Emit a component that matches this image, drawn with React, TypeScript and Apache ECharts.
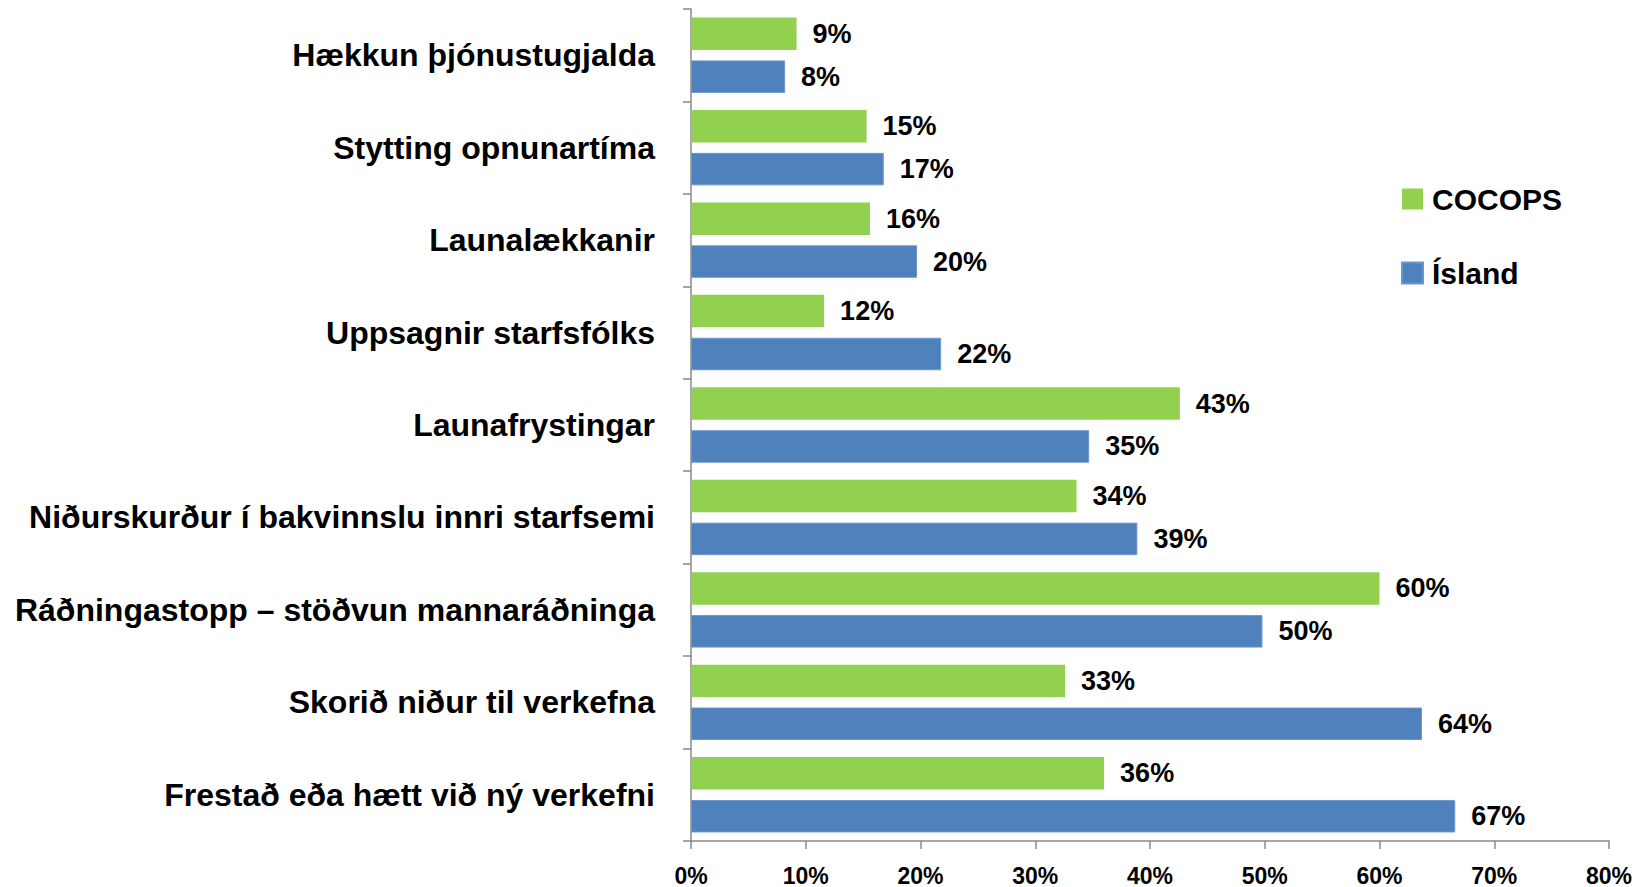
import React, { useEffect, useRef } from "react";
import * as echarts from "echarts";

const categories = [
  "Hækkun þjónustugjalda",
  "Stytting opnunartíma",
  "Launalækkanir",
  "Uppsagnir starfsfólks",
  "Launafrystingar",
  "Niðurskurður í bakvinnslu innri starfsemi",
  "Ráðningastopp – stöðvun mannaráðninga",
  "Skorið niður til verkefna",
  "Frestað eða hætt við ný verkefni",
];
const cocops = [9.2, 15.3, 15.6, 11.6, 42.6, 33.6, 60.0, 32.6, 36.0];
const island = [8.2, 16.8, 19.7, 21.8, 34.7, 38.9, 49.8, 63.7, 66.6];
const xTicks = { min: 0, max: 80, interval: 10 };

const FONT = "'Liberation Sans', Arial, sans-serif";

export default function App() {
  const ref = useRef<HTMLDivElement>(null);
  useEffect(() => {
    if (!ref.current) return;
    const chart = echarts.init(ref.current, undefined, { renderer: "svg" });
    const labelStyle = {
      show: true,
      position: "right" as const,
      distance: 16,
      color: "#000",
      fontFamily: FONT,
      fontWeight: "bold" as const,
      fontSize: 27,
      formatter: (p: any) => Math.round(p.value) + "%",
    };
    chart.setOption({
      animation: false,
      backgroundColor: "#fff",
      grid: { left: 691, right: 35, top: 9, bottom: 45 },
      legend: {
        orient: "vertical",
        left: 1401,
        top: 184,
        padding: 0,
        icon: "rect",
        itemWidth: 21,
        itemHeight: 21,
        itemGap: 44,
        data: ["COCOPS", "Ísland"],
        textStyle: {
          color: "#000",
          fontFamily: FONT,
          fontWeight: "bold",
          fontSize: 30,
          padding: [0, 0, 0, 4],
        },
      },
      xAxis: {
        type: "value",
        min: xTicks.min,
        max: xTicks.max,
        interval: xTicks.interval,
        axisLine: { show: true, lineStyle: { color: "#898989", width: 1.5 } },
        axisTick: { show: true, length: 8, lineStyle: { color: "#898989", width: 1.5 } },
        splitLine: { show: false },
        axisLabel: {
          formatter: "{value}%",
          color: "#000",
          fontFamily: FONT,
          fontWeight: "bold",
          fontSize: 23,
          margin: 23,
        },
      },
      yAxis: {
        type: "category",
        inverse: true,
        data: categories,
        axisLine: { show: true, lineStyle: { color: "#898989", width: 1.5 } },
        axisTick: { show: true, length: 8, lineStyle: { color: "#898989", width: 1.5 } },
        axisLabel: {
          color: "#000",
          fontFamily: FONT,
          fontWeight: "bold",
          fontSize: 32,
          margin: 36,
        },
      },
      series: [
        {
          name: "COCOPS",
          type: "bar",
          data: cocops,
          barWidth: 32.5,
          barGap: "32%",
          itemStyle: { color: "#92D050" },
          label: labelStyle,
        },
        {
          name: "Ísland",
          type: "bar",
          data: island,
          barWidth: 32.5,
          barGap: "32%",
          itemStyle: { color: "#4F81BD", borderColor: "#6a97cc", borderWidth: 1 },
          label: labelStyle,
        },
      ],
    });
    return () => chart.dispose();
  }, []);
  return (
    <div
      ref={ref}
      style={{ position: "fixed", left: 0, top: 0, width: 1644, height: 887 }}
    />
  );
}
